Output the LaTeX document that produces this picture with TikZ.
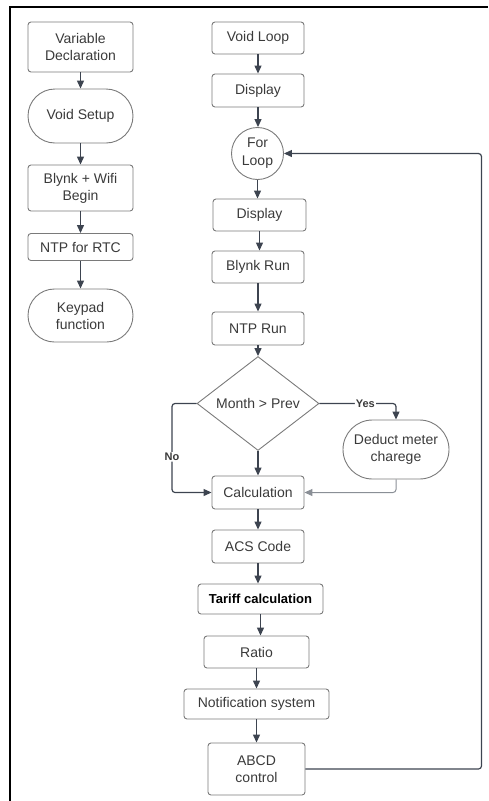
\documentclass[tikz,border=0pt]{standalone}
\usepackage{fontspec}
\setmainfont{Liberation Sans}
\usetikzlibrary{arrows.meta,shapes.geometric,shapes.misc}
\definecolor{boxline}{HTML}{7A7A7A}
\definecolor{txt}{HTML}{3A3A3A}
\definecolor{flow}{HTML}{3D4450}
\definecolor{flowlight}{HTML}{8A8F96}
\begin{document}
\begin{tikzpicture}[x=1pt,y=-1pt,
  base/.style={draw=boxline, line width=0.9pt, text=txt,
    font=\fontsize{14}{17}\selectfont, align=center, inner sep=0pt},
  procbox/.style={base, rectangle, rounded corners=3pt},
  termbox/.style={base, rounded rectangle},
  loopnode/.style={base, circle, minimum size=52pt, font=\fontsize{14}{18}\selectfont},
  decision/.style={base, diamond, minimum width=122pt, minimum height=81pt},
  boldbox/.style={procbox, text=black, font=\bfseries\fontsize{13}{16}\selectfont},
  flowarrow/.style={draw=flow, line width=1.2pt, rounded corners=3pt,
    -{Triangle[length=8pt,width=7pt]}},
  lightarrow/.style={flowarrow, draw=flowlight, line width=1pt},
  branchlbl/.style={fill=white, inner sep=1pt, text=txt,
    font=\bfseries\fontsize{11}{13}\selectfont},
]
\useasboundingbox (0,0) rectangle (488,801);

% outer frame (left and top edges)
\draw[line width=2.2pt, line join=miter] (10,801) -- (10,7) -- (488,7);

% setup column
\node[procbox, minimum width=105pt, minimum height=50pt] (vd) at (80.5,47) {Variable\\Declaration};
\node[termbox, minimum width=105pt, minimum height=54pt] (vs) at (80.5,116) {Void Setup};
\node[procbox, minimum width=105pt, minimum height=46pt] (bw) at (80.5,188) {Blynk + Wifi\\Begin};
\node[procbox, minimum width=105pt, minimum height=27pt] (rtc) at (80.5,247) {NTP for RTC};
\node[termbox, minimum width=105pt, minimum height=53pt] (kp) at (80.5,315.5) {Keypad\\function};

\draw[flowarrow] (vd.south) -- (vs.north);
\draw[flowarrow] (vs.south) -- (bw.north);
\draw[flowarrow] (bw.south) -- (rtc.north);
\draw[flowarrow] (rtc.south) -- (kp.north);

% loop column
\node[procbox, minimum width=92pt, minimum height=32pt] (vl) at (258,38) {Void Loop};
\node[procbox, minimum width=92pt, minimum height=33pt] (d1) at (258,90.5) {Display};
\node[loopnode] (fl) at (257.5,153.5) {For\\Loop};
\node[procbox, minimum width=93pt, minimum height=32pt] (d2) at (259.5,215) {Display};
\node[procbox, minimum width=92pt, minimum height=32pt] (br) at (258,267) {Blynk Run};
\node[procbox, minimum width=92pt, minimum height=33pt] (nr) at (258,328.5) {NTP Run};
\node[decision] (dm) at (258,403.5) {Month > Prev};
\node[termbox, minimum width=106pt, minimum height=59pt] (dd) at (396,449.5) {Deduct meter\\charege};
\node[procbox, minimum width=92pt, minimum height=33pt] (calc) at (258,492.5) {Calculation};
\node[procbox, minimum width=92pt, minimum height=33pt] (acs) at (258,546.5) {ACS Code};
\node[boldbox, minimum width=125pt, minimum height=30pt] (tar) at (260.5,599) {Tariff calculation};
\node[procbox, minimum width=105pt, minimum height=32pt] (rat) at (256.5,652) {Ratio};
\node[procbox, minimum width=145pt, minimum height=30pt] (nt) at (256.5,704) {Notification system};
\node[procbox, minimum width=97pt, minimum height=52pt] (ab) at (256.5,769) {ABCD\\control};

\draw[flowarrow] (vl.south) -- (vl.south |- d1.north);
\draw[flowarrow] (d1.south) -- (d1.south |- fl.north);
\draw[flowarrow] (fl.south) -- (fl.south |- d2.north);
\draw[flowarrow] (d2.south) -- (d2.south |- br.north);
\draw[flowarrow] (br.south) -- (br.south |- nr.north);
\draw[flowarrow] (nr.south) -- (nr.south |- dm.north);
\draw[flowarrow] (dm.south) -- (dm.south |- calc.north);
\draw[flowarrow] (calc.south) -- (calc.south |- acs.north);
\draw[flowarrow] (acs.south) -- (acs.south |- tar.north);
\draw[flowarrow] (tar.south) -- (tar.south |- rat.north);
\draw[flowarrow] (rat.south) -- (rat.south |- nt.north);
\draw[flowarrow] (nt.south) -- (nt.south |- ab.north);

% decision branches
\draw[flowarrow] (dm.east) -- (dd.north |- dm.east) node[branchlbl, pos=0.6] {Yes} -- (dd.north);
\draw[flowarrow] (dm.west) -- (172,403.5) -- (172,492.5) node[branchlbl, pos=0.6] {No} -- (calc.west);
\draw[lightarrow] (dd.south) -- (dd.south |- calc.east) -- (calc.east);

% return to the for loop
\draw[flowarrow] (ab.east) -- (481.5,769) -- (481.5,153.5) -- (fl.east);
\end{tikzpicture}
\end{document}
